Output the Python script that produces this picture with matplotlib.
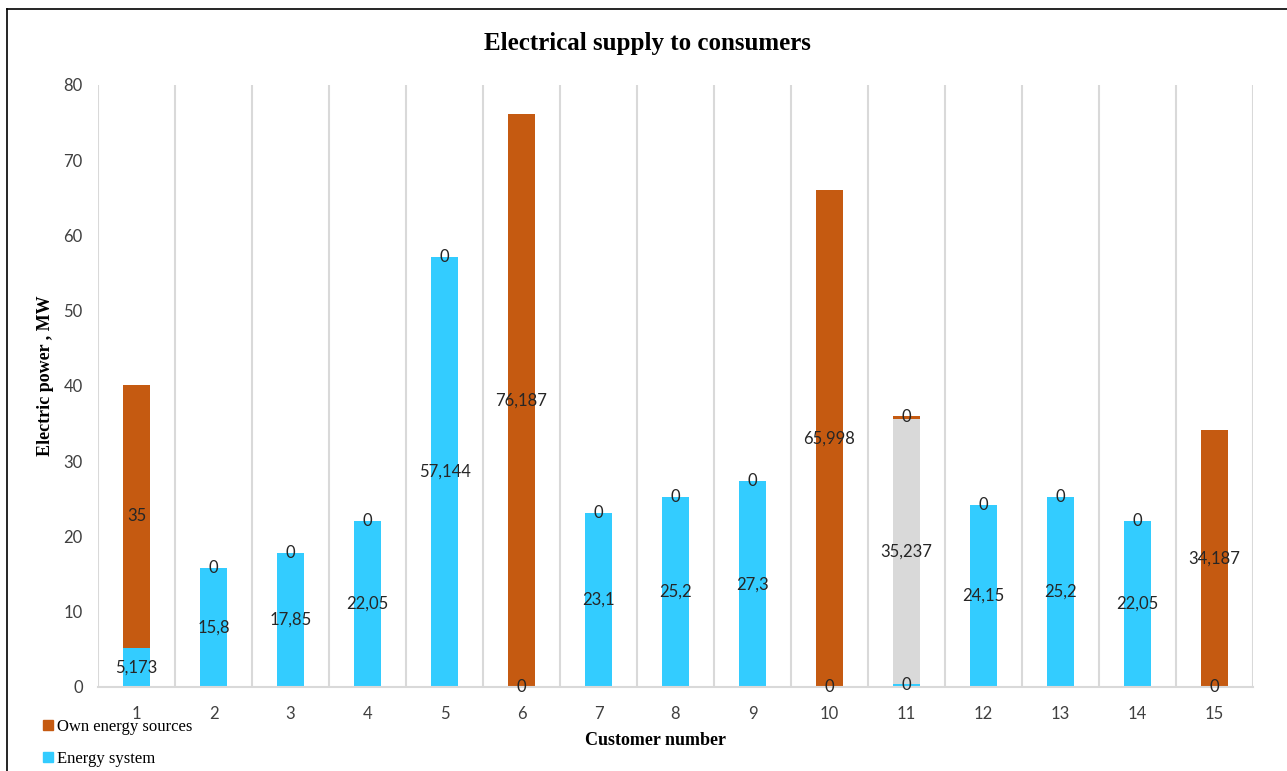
import matplotlib.pyplot as plt
from matplotlib.patches import Patch
from matplotlib.lines import Line2D

customers = [str(i) for i in range(1, 16)]
energy_system = [5.173, 15.8, 17.85, 22.05, 57.144, 0, 23.1, 25.2, 27.3, 0, 0.4, 24.15, 25.2, 22.05, 0]
other = [0, 0, 0, 0, 0, 0, 0, 0, 0, 0, 35.237, 0, 0, 0, 0]
own_sources = [35, 0, 0, 0, 0, 76.187, 0, 0, 0, 65.998, 0.4, 0, 0, 0, 34.187]

c_blue = '#33ccff'
c_orange = '#c55a11'
c_grey = '#d9d9d9'


def fmt(v):
    if v < 1:
        return '0'
    return f'{v:g}'.replace('.', ',')


fig = plt.figure(figsize=(12.87, 7.71), dpi=100)
ax = fig.add_axes([0.0762, 0.109, 0.8974, 0.781])

x = list(range(len(customers)))
w = 0.35
b1 = ax.bar(x, energy_system, w, color=c_blue, zorder=2)
bottom2 = energy_system
b2 = ax.bar(x, other, w, bottom=bottom2, color=c_grey, zorder=2)
bottom3 = [a + b for a, b in zip(energy_system, other)]
b3 = ax.bar(x, own_sources, w, bottom=bottom3, color=c_orange, zorder=2)

lab_kw = dict(ha='center', va='center', fontsize=12, color='#262626', family='Lato', zorder=3)
for i in x:
    ax.text(i, energy_system[i] / 2, fmt(energy_system[i]), **lab_kw)
    if other[i] > 0:
        ax.text(i, bottom2[i] + other[i] / 2, fmt(other[i]), **lab_kw)
    ax.text(i, bottom3[i] + own_sources[i] / 2, fmt(own_sources[i]), **lab_kw)

ax.set_xlim(-0.5, len(customers) - 0.5)
ax.set_ylim(0, 80)
ax.set_yticks(range(0, 81, 10))
ax.set_xticks(x)
ax.set_xticklabels(customers)
for i in range(len(customers) + 1):
    ax.axvline(i - 0.5, color='#d9d9d9', lw=1.5, zorder=1)
for s in ['top', 'right', 'left']:
    ax.spines[s].set_visible(False)
ax.spines['bottom'].set_color('#d9d9d9')
ax.spines['bottom'].set_linewidth(1.5)
ax.tick_params(length=0, labelsize=12, labelcolor='#404040')
ax.tick_params(axis='x', pad=14)
ax.tick_params(axis='y', pad=11)
for t in ax.get_xticklabels() + ax.get_yticklabels():
    t.set_family('Lato')

fig.text(0.503, 0.943, 'Electrical supply to consumers', ha='center', va='center',
         family='Liberation Serif', weight='bold', fontsize=18)
fig.text(0.509, 0.040, 'Customer number', ha='center', va='center',
         family='Liberation Serif', weight='bold', fontsize=13)
fig.text(0.035, 0.513, 'Electric power , MW', ha='center', va='center', rotation=90,
         family='Liberation Serif', weight='bold', fontsize=13)

handles = [Patch(color=c_orange, label='Own energy sources'),
           Patch(color=c_blue, label='Energy system')]
fig.legend(handles=handles, loc='lower left', bbox_to_anchor=(0.022, -0.014), frameon=False,
           prop={'family': 'Liberation Serif', 'size': 12}, handlelength=0.6, handleheight=0.6,
           handletextpad=0.2, labelspacing=0.95)

fig.add_artist(Line2D([7 / 1287, 7 / 1287], [0, 1 - 9 / 771], color='black', lw=1.2))
fig.add_artist(Line2D([7 / 1287, 1], [1 - 9 / 771, 1 - 9 / 771], color='black', lw=1.2))

fig.savefig('out.png', dpi=100)
